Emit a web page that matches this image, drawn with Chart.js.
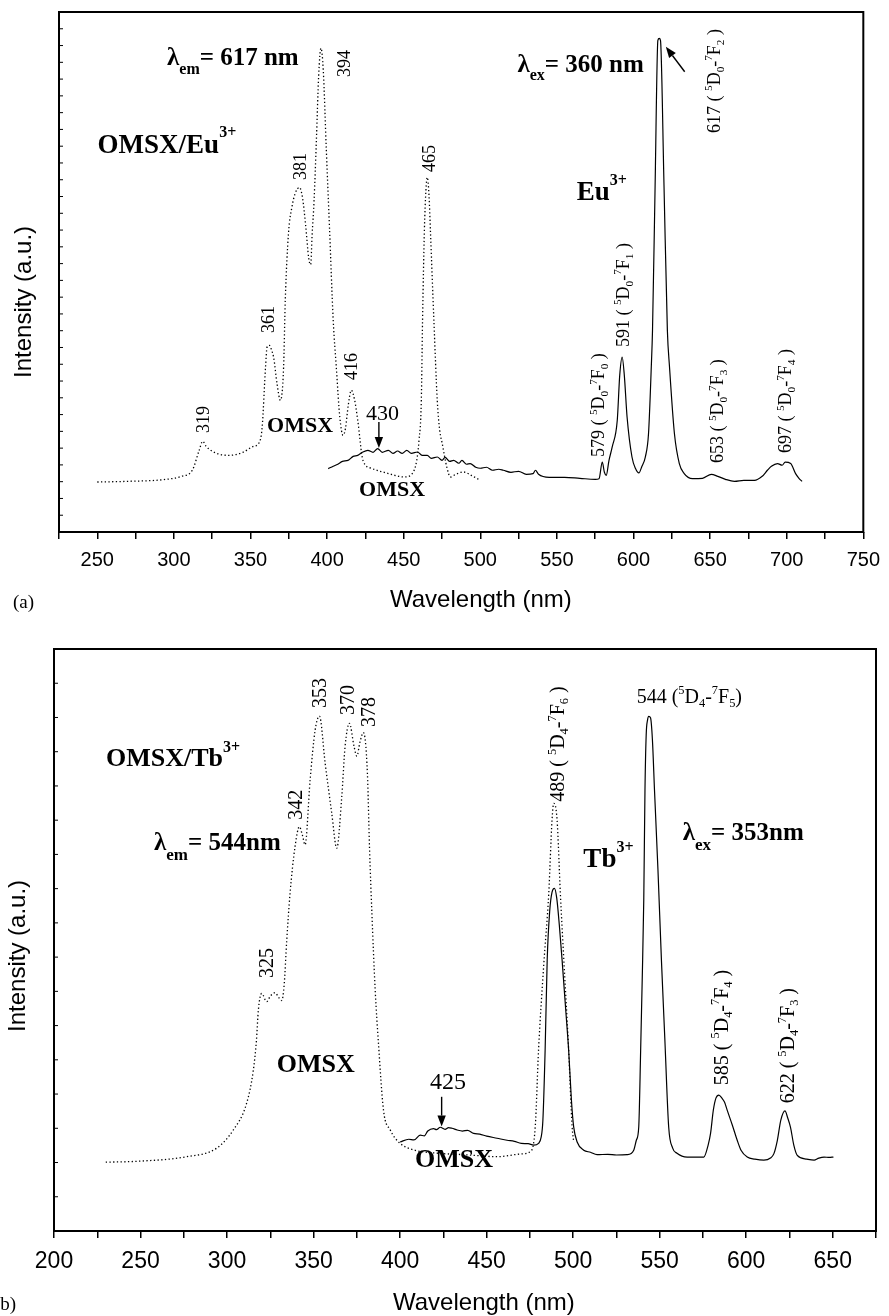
<!DOCTYPE html>
<html><head><meta charset="utf-8">
<script src="https://cdn.jsdelivr.net/npm/chart.js@4.4.1/dist/chart.umd.min.js"></script>
<style>
html,body{margin:0;padding:0;background:#fff;width:889px;height:1316px;overflow:hidden;}
#wrapA{position:absolute;left:0;top:0;width:889px;height:640px;}
#wrapB{position:absolute;left:0;top:640px;width:889px;height:676px;}
canvas{display:block;}
</style></head><body>
<div id="wrapA"><canvas id="chartA" width="889" height="640"></canvas></div>
<div id="wrapB"><canvas id="chartB" width="889" height="676"></canvas></div>
<script>
// ---------- DATA (a): OMSX/Eu3+ ----------
const euExcWavelength = [250,270,293,305,312,316.5,318.8,321,325,330,336,345,352,355.4,357.6,359.8,360.8,362.3,363.8,365.1,367.3,369.5,371.6,372.7,374.8,377,379.2,382,384,386,388,389.3,390.2,391.5,393,394.5,396,397.5,399.5,401.5,404,406,408.3,410.4,412,413.8,415.8,418,420,423.4,428.8,439.5,450.3,455.7,458.5,460,461.5,462.3,463.5,464.5,465.4,466.5,467.5,469.7,471.9,473.5,475.1,478.3,480.5,484,489,494,500];
const euExcIntensity  = [2.98,3.02,3.12,3.32,3.68,4.87,5.41,5.11,4.81,4.63,4.57,4.75,5.11,5.29,6.24,9.82,11.01,11.13,10.83,10.41,8.86,7.85,9.82,13.82,17.81,19.36,20.19,20.54,19.89,18.28,16.32,15.94,17.69,19.77,23.35,27.22,28.84,27.52,22.75,18.28,12.61,9.82,6.84,5.76,6.18,7.55,8.45,7.85,6.66,4.27,3.80,3.50,3.28,3.50,4.27,5.47,7.85,12.61,17.98,20.37,21.14,20.07,17.81,12.61,7.85,6.06,5.29,3.80,3.28,3.44,3.58,3.38,3.08];

const euEmWavelength = [400.7,404,407,410,413.6,417,420,423,426.6,430,433,436,440,443,446,449,452,455,459,462,465.4,468,471.9,475,477,480,482.6,486,488,491,493.4,497,500,504,508,512,515,520,525,530,534.4,536,538,545,555,565,575,577.5,579.6,581,582.2,584,586.1,589.4,591,592.6,594,595.8,599,601.3,603.5,605.5,607.7,609.8,611.6,612.4,614.1,615.9,616.8,617.6,619.9,622.1,623.5,626.7,629.9,633.1,638.5,645,650.8,655,660,665.9,672,678.9,684,687.4,690,694,697,699,702.6,705.8,708,710];
const euEmIntensity  = [3.78,3.92,4.04,4.21,4.27,4.51,4.57,4.75,4.87,4.75,4.97,4.75,4.87,4.69,4.83,4.69,4.87,4.69,4.77,4.57,4.57,4.39,4.47,4.27,4.45,4.21,4.27,4.10,4.27,4.04,4.08,3.86,3.80,3.86,3.68,3.74,3.68,3.56,3.62,3.44,3.48,3.68,3.44,3.26,3.26,3.20,3.14,3.18,4.17,3.56,3.38,4.27,5.07,6.66,9.34,10.43,9.34,6.86,4.47,3.78,3.52,3.92,4.47,5.87,9.84,12.02,20.67,29.31,29.43,29.31,20.67,12.02,9.84,5.87,4.08,3.48,3.18,3.20,3.44,3.32,3.14,3.02,3.08,3.08,3.32,3.68,3.92,4.08,3.98,4.16,4.08,3.48,3.20,3.02];

// ---------- DATA (b): OMSX/Tb3+ ----------
const tbExcWavelength = [229.9,249.6,276.6,294,303.6,311.3,315.2,317,318.1,320,322.9,325,327.7,330,331.6,333,334.5,336.4,339.3,341.8,343.5,345.1,348,350.9,353.4,356.7,360.5,363.4,366.3,368.2,370.7,373.4,375,376.8,378.8,381.1,382.3,383.7,385.6,387.5,390.4,394.3,400,407.7,420,440,456,470,475.3,478.1,480,483,485.9,487.8,488.8,490.7,492.6,494.6,497.4,499.4,500.3];
const tbExcIntensity  = [2.01,2.04,2.17,2.42,2.95,3.73,4.70,5.58,6.46,6.94,6.70,6.86,6.96,6.81,6.73,7.19,8.50,9.86,11.23,11.81,11.57,11.28,13.17,14.63,15.04,13.66,12.20,11.18,12.69,14.15,14.83,14.15,13.87,14.28,14.56,13.37,11.23,9.28,7.04,5.48,3.53,2.95,2.56,2.37,2.28,2.22,2.17,2.25,2.32,3.05,5.29,7.77,9.86,12.01,12.49,12.01,9.86,7.92,5.29,3.05,2.61];

const tbEmWavelength = [400,405,408,411.6,414,416,419.3,421,423.2,426,428,430,433,436,439,442.5,446,450,456,461.8,466,470,474,477.2,480,481.5,482.5,483.8,485,486.5,487.8,489.2,490.5,492,493.6,495.5,497.4,499,500.3,502.3,506.1,510,513.8,520,525,531.2,535,536.5,537.9,539,539.9,540.8,541.5,542.2,543,543.7,544.7,545.8,547,549,551,553,555.2,557.5,560,565.9,575.5,578,579.4,581,582.5,584.2,586,587.5,589,592,594.8,597,600.6,605,610.2,614,616,618,620,622.4,624,625.6,627.5,629.5,635,639.2,642,645,648,650.4];
const tbEmIntensity  = [2.60,2.68,2.66,2.80,2.78,2.92,2.99,2.96,3.03,2.97,3.02,3.00,2.95,2.92,2.94,2.85,2.83,2.77,2.71,2.65,2.62,2.56,2.55,2.51,2.56,2.74,3.23,5.28,7.92,9.38,9.90,10.01,9.73,8.94,7.92,6.60,5.28,3.82,3.04,2.60,2.36,2.30,2.23,2.24,2.22,2.23,2.36,2.65,3.04,5.28,7.33,9.67,12.88,14.49,14.93,15.03,14.99,14.35,12.88,10.55,7.92,5.58,3.04,2.42,2.27,2.16,2.16,2.51,2.85,3.53,3.88,3.97,3.88,3.76,3.53,3.09,2.65,2.36,2.16,2.10,2.07,2.13,2.26,2.65,3.24,3.51,3.30,3.03,2.51,2.21,2.10,2.07,2.13,2.16,2.15,2.16];

// tick labels (every other 25-nm tick is labelled)
const xTickLabelsA = [250,300,350,400,450,500,550,600,650,700,750];
const xTickLabelsB = [200,250,300,350,400,450,500,550,600,650];

// ---------- helpers ----------
const SERIF = '"Liberation Serif","Times New Roman",serif';
const SANS  = '"Liberation Sans",Arial,sans-serif';
function P(t, s, b, dy){ return {t, s, b: !!b, dy: dy || 0}; }
function sup(t, s){ return {t, s: s*0.62, b:false, dy: -s*0.42}; }
function sub(t, s){ return {t, s: s*0.62, b:false, dy: s*0.22}; }
function trans(num, dS, fS, s, spaced){
  return [P(num + (spaced ? ' ( ' : ' ('), s), sup('5', s), P('D', s), sub(dS, s), P('-', s),
          sup('7', s), P('F', s), sub(fS, s), P(spaced ? ' )' : ')', s)];
}
function drawParts(ctx, parts, family){
  let x = 0;
  for (const p of parts){
    ctx.font = (p.b ? 'bold ' : '') + p.s.toFixed(1) + 'px ' + family;
    ctx.fillText(p.t, x, p.dy);
    x += ctx.measureText(p.t).width;
  }
}
function arrow(ctx, x1, y1, x2, y2){
  const ang = Math.atan2(y2 - y1, x2 - x1), L = 11, W = 4.2;
  const bx = x2 - L*Math.cos(ang), by = y2 - L*Math.sin(ang);
  ctx.lineWidth = 1.4;
  ctx.beginPath(); ctx.moveTo(x1, y1); ctx.lineTo(bx, by); ctx.stroke();
  ctx.beginPath(); ctx.moveTo(x2, y2);
  ctx.lineTo(bx + W*Math.sin(ang), by - W*Math.cos(ang));
  ctx.lineTo(bx - W*Math.sin(ang), by + W*Math.cos(ang));
  ctx.closePath(); ctx.fill();
}

function decoPlugin(cfg){
  return { id: 'deco', afterDraw(chart){
    const {ctx, chartArea: a, scales: {x, y}} = chart;
    ctx.save();
    ctx.fillStyle = '#000'; ctx.strokeStyle = '#000';
    ctx.lineWidth = 2;
    ctx.strokeRect(a.left, a.top, a.right - a.left, a.bottom - a.top);
    ctx.lineWidth = 1;
    for (const t of y.ticks){
      const py = y.getPixelForValue(t.value);
      if (py <= a.top + 1 || py >= a.bottom - 1) continue;
      ctx.beginPath(); ctx.moveTo(a.left, py); ctx.lineTo(a.left + 4, py); ctx.stroke();
    }
    ctx.textBaseline = 'alphabetic'; ctx.textAlign = 'left';
    for (const it of cfg.items){
      const px = x.getPixelForValue(it.x), py = y.getPixelForValue(it.y);
      ctx.save();
      if (it.rot){ ctx.translate(px + 0.34*it.size, py); ctx.rotate(-Math.PI/2); }
      else ctx.translate(px, py);
      drawParts(ctx, it.parts, it.family || SERIF);
      ctx.restore();
    }
    for (const ar of cfg.arrows){
      arrow(ctx, x.getPixelForValue(ar.x1), y.getPixelForValue(ar.y1), x.getPixelForValue(ar.x2), y.getPixelForValue(ar.y2));
    }
    // panel label + axis titles
    ctx.font = '19px ' + SERIF; ctx.fillText(cfg.panel, cfg.panelX, cfg.panelY);
    ctx.font = '24px ' + SANS; ctx.fillText('Wavelength (nm)', cfg.xtX, cfg.xtY);
    ctx.save(); ctx.translate(cfg.ytX, cfg.ytY); ctx.rotate(-Math.PI/2);
    ctx.fillText('Intensity (a.u.)', 0, 0); ctx.restore();
    ctx.restore();
  }};
}

function makeChart(id, o){
  const pts = (w, v) => w.map((xv, i) => ({x: xv, y: v[i]}));
  return new Chart(document.getElementById(id), {
    type: 'line',
    data: { datasets: [
      { data: pts(o.excW, o.excI), borderColor: '#000', borderWidth: 1.3, borderDash: [1.3, 2.4],
        pointRadius: 0, cubicInterpolationMode: 'monotone', fill: false },
      { data: pts(o.emW, o.emI), borderColor: '#000', borderWidth: 1.2,
        pointRadius: 0, cubicInterpolationMode: 'monotone', fill: false }
    ]},
    options: {
      responsive: false, animation: false, devicePixelRatio: 1,
      layout: { padding: { left: 0, right: o.padR, top: o.padT, bottom: 0 } },
      plugins: { legend: { display: false }, tooltip: { enabled: false } },
      scales: {
        x: { type: 'linear', min: o.xmin, max: o.xmax,
             afterFit: s => { s.height = o.xH; },
             border: { display: false },
             grid: { display: true, drawOnChartArea: false, drawTicks: true, tickLength: 7, color: '#000', lineWidth: 1.5 },
             ticks: { stepSize: 25, autoSkip: false, maxRotation: 0, padding: o.tickPad, color: '#000',
                      font: { family: SANS, size: o.tickSize },
                      callback: v => o.labels.includes(v) ? String(v) : '' } },
        y: { type: 'linear', min: 0, max: o.ymax,
             afterFit: s => { s.width = o.yW; },
             border: { display: false }, grid: { display: false },
             ticks: { display: false, stepSize: 1 } }
      }
    },
    plugins: [decoPlugin(o.deco)]
  });
}

// ---------- annotations (positions in data units) ----------
const itemsA = [
  {x: 295.5, y: 27.84, parts: [P('λ',25,true), P('em',16,true,9), P('= 617 nm',25,true)]},
  {x: 250.2, y: 22.59, parts: [P('OMSX/Eu',27,true), P('3+',16,true,-16)]},
  {x: 360.8, y: 5.96, parts: [P('OMSX',22,true)]},
  {x: 425.4, y: 6.68, parts: [P('430',22)]},
  {x: 420.9, y: 2.15, parts: [P('OMSX',22,true)]},
  {x: 524.2, y: 27.44, parts: [P('λ',25,true), P('ex',16,true,8), P('= 360 nm',25,true)]},
  {x: 563.0, y: 19.79, parts: [P('Eu',27,true), P('3+',16,true,-15)]},
  {rot: true, size: 18, x: 411.2, y: 27.13, parts: [P('394',18)]},
  {rot: true, size: 18, x: 382.1, y: 20.98, parts: [P('381',18)]},
  {rot: true, size: 18, x: 466.2, y: 21.46, parts: [P('465',18)]},
  {rot: true, size: 18, x: 361.4, y: 11.86, parts: [P('361',18)]},
  {rot: true, size: 18, x: 318.7, y: 5.90, parts: [P('319',18)]},
  {rot: true, size: 18, x: 415.7, y: 9.06, parts: [P('416',18)]},
  {rot: true, size: 18, x: 652.4, y: 23.79, parts: trans('617','0','2',18,true)},
  {rot: true, size: 18, x: 592.9, y: 11.03, parts: trans('591','0','1',18,true)},
  {rot: true, size: 18, x: 577.0, y: 4.47, parts: trans('579','0','0',18,true)},
  {rot: true, size: 18, x: 654.5, y: 4.11, parts: trans('653','0','3',18,true)},
  {rot: true, size: 18, x: 699.1, y: 4.71, parts: trans('697','0','4',18,true)}
];
const arrowsA = [ {x1: 433.8, y1: 6.56, x2: 433.8, y2: 5.01}, {x1: 633.4, y1: 27.44, x2: 621.1, y2: 28.93} ];

const itemsB = [
  {x: 230.0, y: 13.58, parts: [P('OMSX/Tb',26,true), P('3+',16,true,-14)]},
  {x: 257.8, y: 11.13, parts: [P('λ',25,true), P('em',17,true,10), P('= 544nm',25,true)]},
  {rot: true, size: 20, x: 339.3, y: 12.01, parts: [P('342',20)]},
  {rot: true, size: 20, x: 353.3, y: 15.28, parts: [P('353',20)]},
  {rot: true, size: 20, x: 369.7, y: 15.07, parts: [P('370',20)]},
  {rot: true, size: 20, x: 381.3, y: 14.72, parts: [P('378',20)]},
  {rot: true, size: 20, x: 322.9, y: 7.39, parts: [P('325',20)]},
  {x: 328.7, y: 4.65, parts: [P('OMSX',26,true)]},
  {x: 417.3, y: 4.14, parts: [P('425',24)]},
  {x: 408.6, y: 1.87, parts: [P('OMSX',26,true)]},
  {rot: true, size: 20, x: 490.8, y: 12.54, parts: trans('489','4','6',20,true)},
  {x: 536.7, y: 15.43, parts: trans('544','4','5',20,false)},
  {x: 505.9, y: 10.64, parts: [P('Tb',27,true), P('3+',16,true,-15)]},
  {x: 563.3, y: 11.42, parts: [P('λ',25,true), P('ex',17,true,10), P('= 353nm',25,true)]},
  {rot: true, size: 20, x: 585.3, y: 4.26, parts: trans('585','4','4',20,true)},
  {rot: true, size: 20, x: 623.7, y: 3.73, parts: trans('622','4','3',20,true)}
];
const arrowsB = [ {x1: 424.0, y1: 3.92, x2: 424.0, y2: 3.05} ];

makeChart('chartA', {
  excW: euExcWavelength, excI: euExcIntensity, emW: euEmWavelength, emI: euEmIntensity,
  xmin: 225, xmax: 750, ymax: 31, labels: xTickLabelsA,
  padR: 18, padT: 12, xH: 108, yW: 59, tickPad: 9, tickSize: 20,
  deco: { items: itemsA, arrows: arrowsA, panel: '(a)', panelX: 13, panelY: 608,
          xtX: 390, xtY: 607, ytX: 31, ytY: 378 }
});
makeChart('chartB', {
  excW: tbExcWavelength, excI: tbExcIntensity, emW: tbEmWavelength, emI: tbEmIntensity,
  xmin: 200, xmax: 675, ymax: 17, labels: xTickLabelsB,
  padR: 13, padT: 9, xH: 85, yW: 54, tickPad: 10, tickSize: 23,
  deco: { items: itemsB, arrows: arrowsB, panel: '(b)', panelX: -6, panelY: 670,
          xtX: 393, xtY: 670, ytX: 25, ytY: 392 }
});
</script></body></html>
